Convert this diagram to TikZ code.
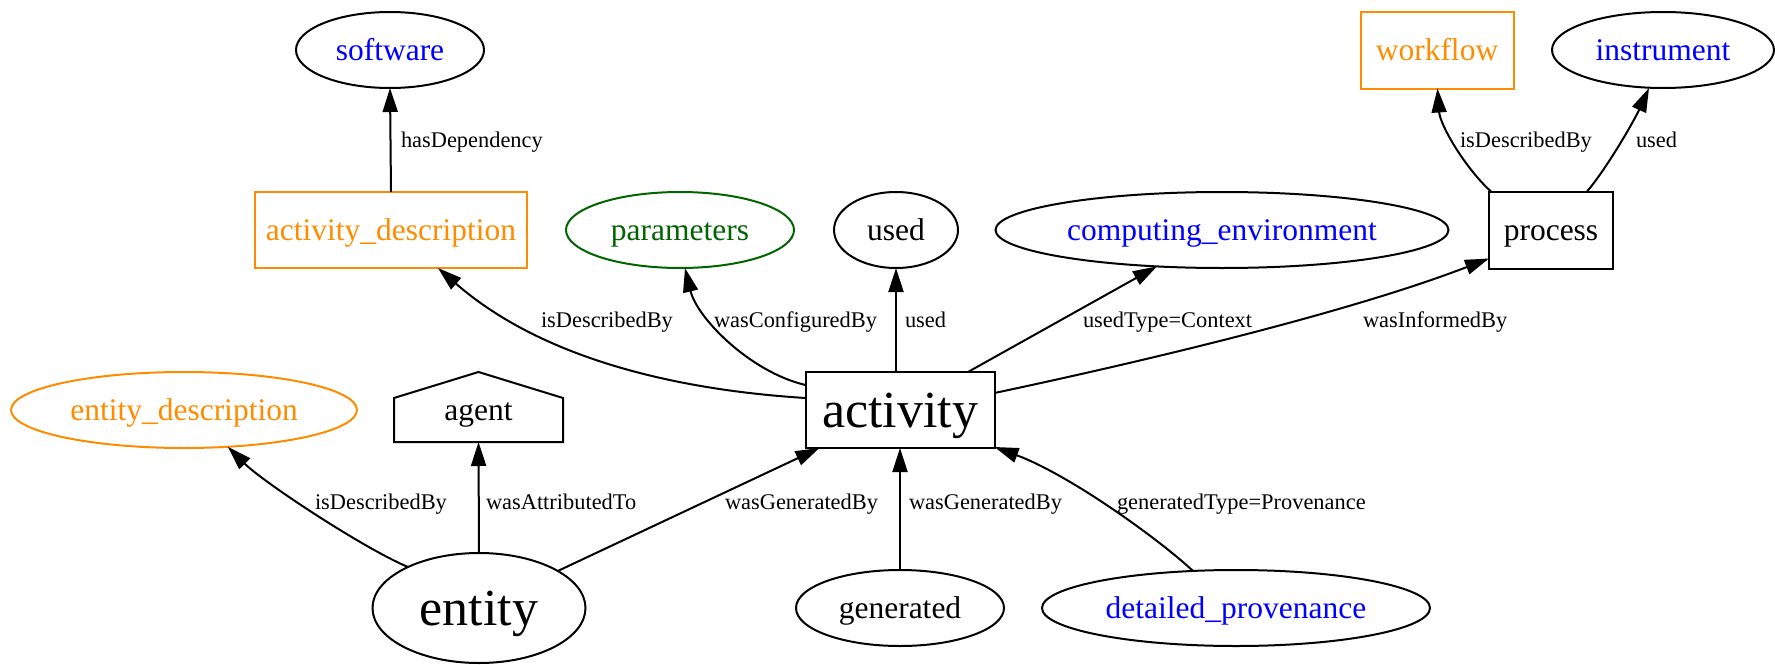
\documentclass[tikz,border=0pt]{standalone}
\usepackage{fontspec}
\setmainfont{Liberation Serif}
\usetikzlibrary{arrows.meta,shapes.geometric,calc}
\definecolor{gvorange}{HTML}{FF8C00}
\definecolor{gvgreen}{HTML}{006400}
\definecolor{gvblue}{HTML}{0000FF}
\begin{document}
\begin{tikzpicture}[x=1pt,y=-1pt,
  every node/.style={inner sep=0pt, outer sep=0pt},
  nd/.style={draw, line width=2pt, font=\fontsize{31.5}{36}\selectfont, text height=21.7pt, text depth=0pt},
  ell/.style={nd, ellipse},
  box/.style={nd, rectangle},
  big/.style={font=\fontsize{52}{60}\selectfont, text height=35.9pt, text depth=0pt},
  lbl/.style={anchor=west, font=\fontsize{22.4}{26}\selectfont, text height=15.5pt, text depth=0pt},
  edge/.style={line width=2pt, -{Triangle[length=24pt,width=15pt]}},
]
\useasboundingbox (0,0) rectangle (1775,664);

% nodes
\node[ell, text=gvblue, minimum width=188pt, minimum height=76pt] (software) at (390,50) {software};
\node[box, draw=gvorange, text=gvorange, minimum width=272pt, minimum height=76pt] (actdesc) at (391,230) {activity\_description};
\node[ell, draw=gvgreen, text=gvgreen, minimum width=228pt, minimum height=76pt] (params) at (680,230) {parameters};
\node[ell, minimum width=124pt, minimum height=76pt] (used) at (896,230) {used};
\node[ell, text=gvblue, minimum width=453pt, minimum height=76pt] (compenv) at (1222,230) {computing\_environment};
\node[box, minimum width=124pt, minimum height=77pt] (process) at (1551,230) {process};
\node[box, draw=gvorange, text=gvorange, minimum width=153pt, minimum height=77pt] (workflow) at (1437,50) {workflow};
\node[ell, text=gvblue, minimum width=222pt, minimum height=76pt] (instrument) at (1663,50) {instrument};
\node[box, big, minimum width=189pt, minimum height=76pt] (activity) at (900,410) {activity};
\node[ell, draw=gvorange, text=gvorange, minimum width=346pt, minimum height=76pt] (entdesc) at (184,410) {entity\_description};
\node[nd, draw=none, minimum width=169pt, minimum height=64pt] (agent) at (478.5,410) {agent};
\draw[line width=2pt] (agent.south west) -- ($(agent.north west)+(0,20)$) -- ($(agent.north)+(0,-6)$) -- ($(agent.north east)+(0,20)$) -- (agent.south east) -- cycle;
\node[ell, big, minimum width=213pt, minimum height=110pt] (entity) at (479,608) {entity};
\node[ell, minimum width=208pt, minimum height=76pt] (generated) at (900,608) {generated};
\node[ell, text=gvblue, minimum width=388pt, minimum height=76pt] (detprov) at (1236,608) {detailed\_provenance};

% edges
\draw[edge] (actdesc.north) -- (software.south);
\draw[edge] ($(activity.west)+(0,-12)$) .. controls (710,392) and (555,370) .. ($(actdesc.south)+(47,0)$);
\draw[edge] ($(activity.west)+(0,-25)$) .. controls (750,372) and (697,318) .. ($(params.south)+(5,0)$);
\draw[edge] (activity.north -| used.south) -- (used.south);
\draw[edge] (activity) -- (compenv);
\draw[edge] ($(activity.east)+(0,-17)$) .. controls (1150,360) and (1350,312) .. ($(process.south west)+(0,-10)$);
\draw[edge] ($(process.north west)+(2,0)$) .. controls (1465,168) and (1440,125) .. ($(workflow.south)+(0.5,0)$);
\draw[edge] ($(process.north east)+(-26,0)$) .. controls (1607,168) and (1634,121) .. ($(instrument.south)+(-14,0)$);
\draw[edge] (entity.150) .. controls (363,548) and (263,482) .. (entdesc.-40);
\draw[edge] (entity.north) -- (agent.south);
\draw[edge] (entity) -- (activity);
\draw[edge] (generated.north) -- (activity.south);
\draw[edge] ($(detprov.north)+(-43,1)$) .. controls (1160,540) and (1070,475) .. ($(activity.south east)+(0,-1)$);

% edge labels
\node[lbl] (l1) at (401,140) {hasDependency};
\node[lbl] (l2) at (541,320) {isDescribedBy};
\node[lbl] (l3) at (714,320) {wasConfiguredBy};
\node[lbl] (l4) at (905,320) {used};
\node[lbl] (l5) at (1083,320) {usedType=Context};
\node[lbl] (l6) at (1363,320) {wasInformedBy};
\node[lbl] (l7) at (1460,140) {isDescribedBy};
\node[lbl] (l8) at (1636,140) {used};
\node[lbl] (l9) at (315,502) {isDescribedBy};
\node[lbl] (l10) at (486,502) {wasAttributedTo};
\node[lbl] (l11) at (725,502) {wasGeneratedBy};
\node[lbl] (l12) at (909,502) {wasGeneratedBy};
\node[lbl] (l13) at (1117,502) {generatedType=Provenance};
\end{tikzpicture}
\end{document}
